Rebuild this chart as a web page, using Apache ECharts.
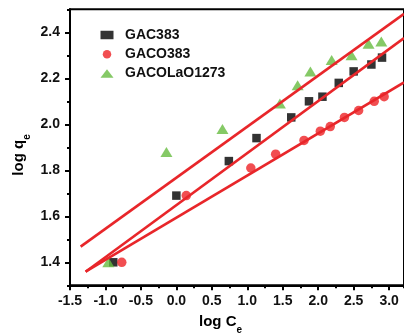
<!DOCTYPE html>
<html>
<head>
<meta charset="utf-8">
<script src="https://cdn.jsdelivr.net/npm/echarts@6/dist/echarts.min.js"></script>
<style>
html,body{margin:0;padding:0;background:#fff;}
#c{width:404px;height:336px;}
</style>
</head>
<body>
<div id="c"></div>
<script>
// ---- data ----
const seriesNames = ['GAC383', 'GACO383', 'GACOLaO1273'];

const gac383X = [-0.89, 0.00, 0.74, 1.13, 1.62, 1.87, 2.06, 2.29, 2.50, 2.75, 2.90];
const gac383Y = [1.40, 1.69, 1.84, 1.94, 2.03, 2.10, 2.12, 2.18, 2.23, 2.26, 2.29];

const gaco383X = [-0.77, 0.14, 1.05, 1.40, 1.80, 2.03, 2.17, 2.37, 2.57, 2.79, 2.93];
const gaco383Y = [1.40, 1.69, 1.81, 1.87, 1.93, 1.97, 1.99, 2.03, 2.06, 2.10, 2.12];

const lao1273X = [-0.96, -0.14, 0.65, 1.46, 1.71, 1.89, 2.19, 2.47, 2.71, 2.89];
const lao1273Y = [1.40, 1.88, 1.98, 2.09, 2.17, 2.23, 2.28, 2.30, 2.35, 2.36];

// fitted lines (end points)
const fitLaO1273X = [-1.35, 3.21];
const fitLaO1273Y = [1.468, 2.480];
const fitGac383X = [-1.28, 3.21];
const fitGac383Y = [1.359, 2.375];
const fitGaco383X = [-1.28, 3.21];
const fitGaco383Y = [1.359, 2.182];

const xMin = -1.5, xMax = 3.21, xMajor = 0.5, xMinor = 0.25;
const yMin = 1.3, yMax = 2.5, yMinor = 0.1;

// ---- chart ----
const zip = (a, b) => a.map((v, i) => [v, b[i]]);
const FONT = 'Liberation Sans';
const BLACK = '#111';

const chart = echarts.init(document.getElementById('c'), null, {renderer: 'canvas'});

const labelStyle = {fontFamily: FONT, fontWeight: 'bold', fontSize: 14, color: BLACK};

chart.setOption({
  animation: false,
  backgroundColor: '#fff',
  grid: {left: 70, right: -3, top: 9.3, bottom: 50.7, show: true, borderColor: '#000', borderWidth: 2, backgroundColor: 'transparent'},
  legend: {
    orient: 'vertical', left: 95.5, top: 23,
    itemWidth: 13, itemHeight: 8.5, itemGap: 5.2,
    textStyle: Object.assign({}, labelStyle, {lineHeight: 14, padding: [0, 0, 0, 6.5]}),
    data: seriesNames
  },
  xAxis: [
    {
      type: 'value', min: xMin, max: xMax, interval: xMajor, position: 'bottom',
      axisLine: {onZero: false, lineStyle: {color: '#000', width: 2}},
      axisTick: {length: 5, lineStyle: {color: '#000', width: 2}},
      axisLabel: Object.assign({}, labelStyle, {margin: 9, showMaxLabel: false, formatter: v => v.toFixed(1)}),
      splitLine: {show: false}
    },
    {
      type: 'value', min: xMin, max: xMax, interval: xMinor, position: 'bottom', offset: 0,
      axisLine: {show: false, onZero: false},
      axisTick: {length: 3, lineStyle: {color: '#000', width: 2}},
      axisLabel: {show: false},
      splitLine: {show: false}
    }
  ],
  yAxis: [
    {
      type: 'value', min: yMin, max: yMax, interval: yMinor, position: 'left', offset: 0,
      axisLine: {show: true, onZero: false, lineStyle: {color: '#000', width: 2}},
      axisTick: {length: 3, lineStyle: {color: '#000', width: 2}},
      axisLabel: {show: false},
      splitLine: {show: false}
    },
    {
      type: 'value', min: yMin, max: yMax, splitNumber: 6, position: 'left', offset: 0,
      axisLine: {show: false, onZero: false},
      axisTick: {length: 5, lineStyle: {color: '#000', width: 2}},
      axisLabel: Object.assign({}, labelStyle, {margin: 10, showMinLabel: false, showMaxLabel: false, formatter: v => v.toFixed(1)}),
      splitLine: {show: false}
    }
  ],
  graphic: [
    {
      type: 'text', x: 27.5, y: 155, rotation: Math.PI / 2,
      style: {
        text: '{a|log q}{b|e}', align: 'center', verticalAlign: 'middle',
        rich: {
          a: {fontFamily: FONT, fontWeight: 'bold', fontSize: 15, color: BLACK, lineHeight: 15, verticalAlign: 'top'},
          b: {fontFamily: FONT, fontWeight: 'bold', fontSize: 10, color: BLACK, lineHeight: 32}
        }
      }
    },
    {
      type: 'text', x: 220.5, y: 330.5,
      style: {
        text: '{a|log C}{b|e}', align: 'center', verticalAlign: 'middle',
        rich: {
          a: {fontFamily: FONT, fontWeight: 'bold', fontSize: 15, color: BLACK, lineHeight: 15, verticalAlign: 'top'},
          b: {fontFamily: FONT, fontWeight: 'bold', fontSize: 10, color: BLACK, lineHeight: 32}
        }
      }
    }
  ],
  series: [
    {name: seriesNames[0], type: 'scatter', data: zip(gac383X, gac383Y), symbol: 'rect', symbolSize: 8.5,
     itemStyle: {color: '#000'}},
    {name: seriesNames[1], type: 'scatter', data: zip(gaco383X, gaco383Y), symbol: 'circle', symbolSize: 9.5,
     itemStyle: {color: '#ee2226'}},
    {name: seriesNames[2], type: 'scatter', data: zip(lao1273X, lao1273Y), symbol: 'triangle', symbolSize: [12, 10],
     itemStyle: {color: '#66bb40'}},
    {type: 'line', data: zip(fitLaO1273X, fitLaO1273Y), symbol: 'none', silent: true, z: 3,
     lineStyle: {color: '#e8262a', width: 2.6}},
    {type: 'line', data: zip(fitGac383X, fitGac383Y), symbol: 'none', silent: true, z: 3,
     lineStyle: {color: '#e8262a', width: 2.6}},
    {type: 'line', data: zip(fitGaco383X, fitGaco383Y), symbol: 'none', silent: true, z: 3,
     lineStyle: {color: '#e8262a', width: 2.6}}
  ]
});
</script>
</body>
</html>
